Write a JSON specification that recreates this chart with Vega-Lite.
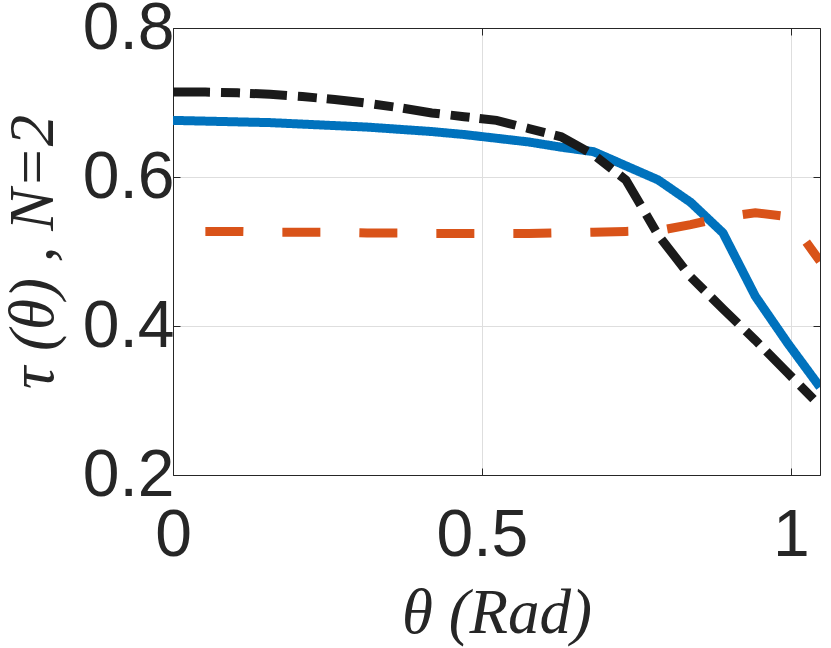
{
  "$schema": "https://vega.github.io/schema/vega-lite/v6.json",
  "background": "white",
  "autosize": {"type": "none"},
  "padding": {"top": 28, "left": 173, "right": 11, "bottom": 173},
  "width": 647,
  "height": 447,
  "config": {
    "view": {"stroke": null},
    "font": "Liberation Sans",
    "axis": {
      "domainColor": "#262626",
      "tickColor": "#262626",
      "labelColor": "#262626",
      "titleColor": "#262626",
      "gridColor": "#dedede",
      "labelFont": "Liberation Sans",
      "labelFontSize": 66,
      "titleFont": "Liberation Serif",
      "titleFontStyle": "italic",
      "titleFontWeight": "normal",
      "titleFontSize": 63
    }
  },
  "data": {
    "values": [
      {"s": "a", "x": 0, "y": 0.676},
      {"s": "a", "x": 0.0524, "y": 0.675},
      {"s": "a", "x": 0.1047, "y": 0.674},
      {"s": "a", "x": 0.1571, "y": 0.673},
      {"s": "a", "x": 0.2094, "y": 0.671},
      {"s": "a", "x": 0.2618, "y": 0.669},
      {"s": "a", "x": 0.3142, "y": 0.667},
      {"s": "a", "x": 0.3665, "y": 0.664},
      {"s": "a", "x": 0.4189, "y": 0.661},
      {"s": "a", "x": 0.4712, "y": 0.657},
      {"s": "a", "x": 0.5236, "y": 0.652},
      {"s": "a", "x": 0.576, "y": 0.647},
      {"s": "a", "x": 0.6283, "y": 0.64},
      {"s": "a", "x": 0.6807, "y": 0.634},
      {"s": "a", "x": 0.733, "y": 0.615},
      {"s": "a", "x": 0.7854, "y": 0.596},
      {"s": "a", "x": 0.8378, "y": 0.566},
      {"s": "a", "x": 0.8901, "y": 0.525},
      {"s": "a", "x": 0.9425, "y": 0.44},
      {"s": "a", "x": 0.9948, "y": 0.377},
      {"s": "a", "x": 1.0472, "y": 0.318},
      {"s": "b", "x": 0.0524, "y": 0.527},
      {"s": "b", "x": 0.1047, "y": 0.527},
      {"s": "b", "x": 0.1571, "y": 0.526},
      {"s": "b", "x": 0.2094, "y": 0.526},
      {"s": "b", "x": 0.2618, "y": 0.526},
      {"s": "b", "x": 0.3142, "y": 0.525},
      {"s": "b", "x": 0.3665, "y": 0.525},
      {"s": "b", "x": 0.4189, "y": 0.524},
      {"s": "b", "x": 0.4712, "y": 0.524},
      {"s": "b", "x": 0.5236, "y": 0.524},
      {"s": "b", "x": 0.576, "y": 0.524},
      {"s": "b", "x": 0.6283, "y": 0.525},
      {"s": "b", "x": 0.6807, "y": 0.526},
      {"s": "b", "x": 0.733, "y": 0.527},
      {"s": "b", "x": 0.7854, "y": 0.528},
      {"s": "b", "x": 0.8378, "y": 0.536},
      {"s": "b", "x": 0.8901, "y": 0.546},
      {"s": "b", "x": 0.9425, "y": 0.552},
      {"s": "b", "x": 0.9948, "y": 0.547},
      {"s": "b", "x": 1.0472, "y": 0.487},
      {"s": "c", "x": 0, "y": 0.714},
      {"s": "c", "x": 0.0524, "y": 0.714},
      {"s": "c", "x": 0.1047, "y": 0.713},
      {"s": "c", "x": 0.1571, "y": 0.711},
      {"s": "c", "x": 0.2094, "y": 0.708},
      {"s": "c", "x": 0.2618, "y": 0.704},
      {"s": "c", "x": 0.3142, "y": 0.699},
      {"s": "c", "x": 0.3665, "y": 0.693},
      {"s": "c", "x": 0.4189, "y": 0.686},
      {"s": "c", "x": 0.4712, "y": 0.681},
      {"s": "c", "x": 0.5236, "y": 0.676},
      {"s": "c", "x": 0.576, "y": 0.665},
      {"s": "c", "x": 0.6283, "y": 0.654},
      {"s": "c", "x": 0.6807, "y": 0.63},
      {"s": "c", "x": 0.733, "y": 0.596},
      {"s": "c", "x": 0.7854, "y": 0.522},
      {"s": "c", "x": 0.8378, "y": 0.466},
      {"s": "c", "x": 0.8901, "y": 0.423},
      {"s": "c", "x": 0.9425, "y": 0.381},
      {"s": "c", "x": 0.9948, "y": 0.337},
      {"s": "c", "x": 1.0472, "y": 0.293}
    ]
  },
  "layer": [
    {
      "mark": {"type": "line", "strokeWidth": 9, "clip": true},
      "encoding": {
        "x": {
          "field": "x",
          "type": "quantitative",
          "scale": {"domain": [0, 1.0472], "nice": false, "zero": false},
          "axis": {
            "values": [0, 0.5, 1],
            "format": "~g",
            "tickSize": -7,
            "labelPadding": 35,
            "labelFlush": false,
            "title": "θ (Rad)",
            "titleBaseline": "alphabetic",
            "titleY": 157
          }
        },
        "y": {
          "field": "y",
          "type": "quantitative",
          "scale": {"domain": [0.2, 0.8], "nice": false, "zero": false},
          "axis": {
            "values": [0.2, 0.4, 0.6, 0.8],
            "format": ".1f",
            "tickSize": -7,
            "labelPadding": 6,
            "labelFlush": false,
            "title": "τ (θ) , N=2",
            "titleAngle": -90,
            "titleBaseline": "alphabetic",
            "titleAlign": "center",
            "titleX": -121,
            "titleY": 223.5
          }
        },
        "color": {
          "field": "s",
          "type": "nominal",
          "scale": {"domain": ["a", "b", "c"], "range": ["#0072BD", "#D95319", "#1a1a1a"]},
          "legend": null
        },
        "strokeDash": {
          "field": "s",
          "type": "nominal",
          "scale": {"domain": ["a", "b", "c"], "range": [[1, 0], [38, 39], [37, 11, 19, 10]]},
          "legend": null
        }
      }
    },
    {
      "mark": {"type": "point", "opacity": 0},
      "encoding": {
        "x": {
          "field": "x",
          "type": "quantitative",
          "scale": {"domain": [0, 1.0472], "nice": false, "zero": false},
          "axis": {"orient": "top", "values": [0, 0.5, 1], "labels": false, "grid": false, "tickSize": -7, "title": null}
        },
        "y": {
          "field": "y",
          "type": "quantitative",
          "scale": {"domain": [0.2, 0.8], "nice": false, "zero": false},
          "axis": {"orient": "right", "values": [0.2, 0.4, 0.6, 0.8], "labels": false, "grid": false, "tickSize": -7, "title": null}
        }
      }
    }
  ],
  "resolve": {"axis": {"x": "independent", "y": "independent"}}
}
